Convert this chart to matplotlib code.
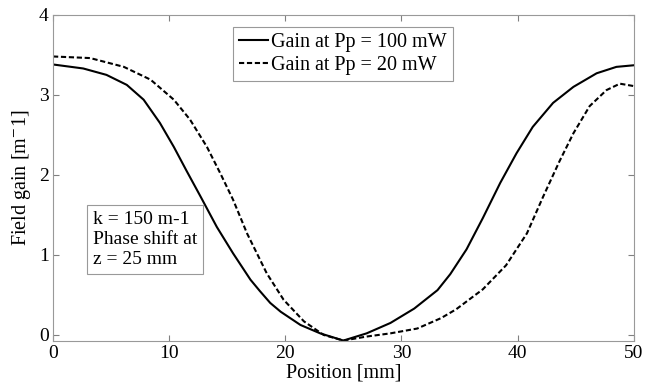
import matplotlib.pyplot as plt
import numpy as np

# Field gain along the grating
pos_100 = [0, 2.6, 4.6, 6.35, 7.8, 9.2, 10.4, 11.5, 12.7, 14.1, 15.5, 17.0, 17.8,
           18.7, 19.6, 21.3, 23.0, 25.0, 27.0, 29.05, 31.1, 33.1, 34.2, 35.6, 37.0,
           38.5, 39.9, 41.3, 43.05, 44.8, 46.8, 48.5, 50.0]
gain_100 = [3.38, 3.33, 3.25, 3.125, 2.94, 2.65, 2.35, 2.05, 1.73, 1.35, 1.02, 0.69, 0.55,
            0.40, 0.29, 0.125, 0.02, -0.07, 0.02, 0.15, 0.33, 0.56, 0.76, 1.07, 1.46,
            1.90, 2.27, 2.60, 2.90, 3.10, 3.27, 3.35, 3.37]

pos_20 = [0, 3.2, 6.1, 8.4, 10.4, 11.8, 13.25, 14.4, 15.5, 16.7, 18.4, 19.85, 21.6,
          23.3, 25.0, 27.0, 29.05, 31.35, 33.4, 34.7, 37.0, 39.0, 40.8, 42.2, 43.6,
          44.8, 46.2, 47.65, 48.8, 50.0]
gain_20 = [3.48, 3.46, 3.35, 3.19, 2.94, 2.69, 2.35, 2.02, 1.69, 1.27, 0.77, 0.44, 0.17,
           0.0, -0.07, -0.02, 0.02, 0.08, 0.21, 0.32, 0.57, 0.87, 1.27, 1.73, 2.17,
           2.52, 2.86, 3.06, 3.14, 3.11]

plt.rcParams['font.family'] = ['Liberation Serif', 'DejaVu Serif']
plt.rcParams['mathtext.fontset'] = 'stix'

fig = plt.figure(figsize=(6.57, 3.91), dpi=100)
ax = fig.add_axes([0.0807, 0.128, 0.884, 0.834])

ax.plot(pos_100, gain_100, color='black', linewidth=1.5, linestyle='-',
        label='Gain at Pp = 100 mW')
ax.plot(pos_20, gain_20, color='black', linewidth=1.5, linestyle=(0, (2.5, 1.3)),
        label='Gain at Pp = 20 mW')

ax.set_xlim(0, 50)
ax.set_ylim(-0.075, 4)
ax.set_xticks(np.arange(0, 51, 10))
ax.set_yticks([0, 1, 2, 3, 4])
ax.set_xlabel('Position [mm]', fontsize=14.5, labelpad=1)
ax.set_ylabel('Field gain [m$^{-}$1]', fontsize=14.5, labelpad=4)

ax.tick_params(axis='both', direction='in', top=True, right=True,
               labelsize=14, length=4, color='gray', pad=3)
for s in ax.spines.values():
    s.set_color('#999999')
    s.set_linewidth(0.8)

leg = ax.legend(loc='upper left', bbox_to_anchor=(233 / 657, 1 - 27 / 391),
                bbox_transform=fig.transFigure, borderaxespad=0, fontsize=14.5,
                handlelength=1.45, handletextpad=0.15, borderpad=0.3,
                labelspacing=0.2, fancybox=False, framealpha=1)
leg.get_frame().set_edgecolor('#999999')
leg.get_frame().set_linewidth(0.8)

fig.text(93 / 657, 1 - 268 / 391, 'k = 150 m-1\nPhase shift at\nz = 25 mm',
         fontsize=14, va='bottom', ha='left', linespacing=1.25,
         bbox=dict(boxstyle='square,pad=0.3', facecolor='white',
                   edgecolor='#999999', linewidth=0.8))

plt.savefig('out.png', dpi=100)
